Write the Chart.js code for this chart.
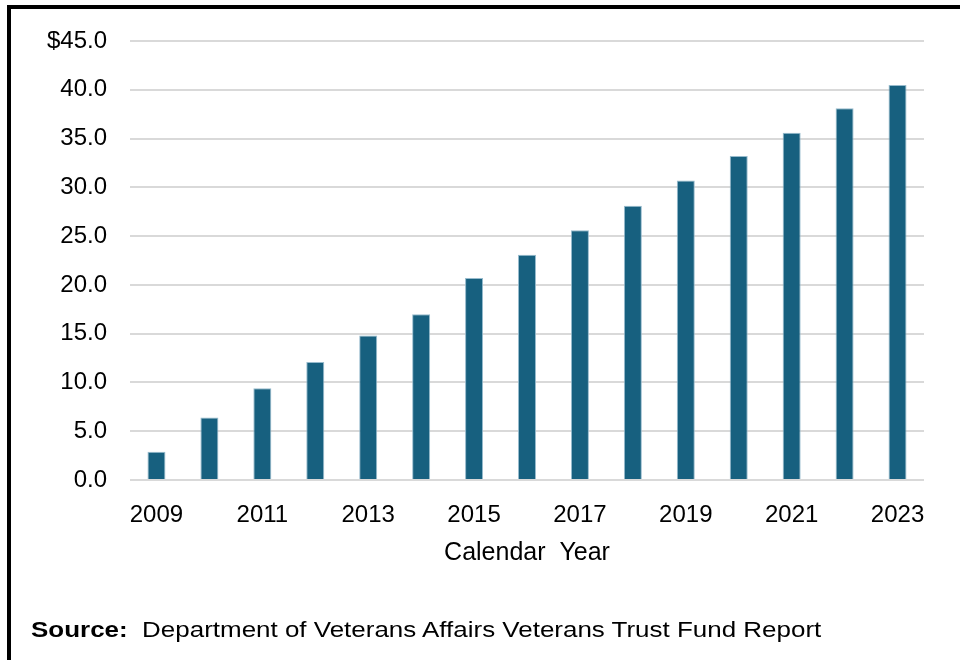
<!DOCTYPE html>
<html>
<head>
<meta charset="utf-8">
<script src="https://cdn.jsdelivr.net/npm/chart.js@4.4.1/dist/chart.umd.min.js"></script>
<style>
  html, body { margin: 0; padding: 0; background: #fff; }
  #wrap { position: relative; width: 960px; height: 660px; overflow: hidden; }
  #myChart { position: absolute; left: 0; top: 0; }
  .frame {
    position: absolute; left: 7px; top: 5px; width: 1000px; height: 700px;
    border: 4px solid #000; pointer-events: none;
  }
  .source {
    position: absolute; left: 31px; top: 617px;
    font-family: "Liberation Sans", Arial, sans-serif; font-size: 22px; color: #000;
    white-space: nowrap;
    transform: scaleX(1.18); transform-origin: left center;
  }
  .source b { font-weight: bold; }
</style>
</head>
<body>
<div id="wrap">
  <canvas id="myChart" width="960" height="660"></canvas>
  <div class="frame"></div>
  <div class="source"><b>Source:</b>&nbsp; Department of Veterans Affairs Veterans Trust Fund Report</div>
</div>
<script>
// data
const years = ['2009', '2010', '2011', '2012', '2013', '2014', '2015', '2016',
  '2017', '2018', '2019', '2020', '2021', '2022', '2023'];
const balance = [2.9, 6.4, 9.4, 12.1, 14.8, 17.0, 20.7, 23.1, 25.6, 28.1, 30.7, 33.2, 35.6, 38.1, 40.5];
const shownYears = ['2009', '2011', '2013', '2015', '2017', '2019', '2021', '2023'];
const yTicks = [0, 5, 10, 15, 20, 25, 30, 35, 40, 45];

const font = 'Liberation Sans, Arial, sans-serif';

const config = {
  type: 'bar',
  data: {
    labels: years,
    datasets: [{
      data: balance,
      backgroundColor: '#17607f',
      borderColor: 'rgba(140,180,200,0.9)',
      borderWidth: 1,
      barPercentage: 0.34,
      categoryPercentage: 1
    }]
  },
  options: {
    responsive: false,
    animation: false,
    layout: {
      padding: { top: 41, right: 36, bottom: 92, left: 0 }
    },
    plugins: {
      legend: { display: false },
      tooltip: { enabled: false }
    },
    scales: {
      x: {
        // fixed height keeps the axis title under the year labels
        afterFit(scale) { scale.height = 88; },
        grid: { display: false, drawTicks: false },
        border: { display: false },
        ticks: {
          autoSkip: false,
          maxRotation: 0,
          padding: 21,
          color: '#000',
          font: { family: font, size: 24 },
          callback: function(val) {
            const y = this.getLabelForValue(val);
            return shownYears.includes(y) ? y : '';
          }
        },
        title: {
          display: true,
          text: 'Calendar  Year',
          color: '#000',
          font: { family: font, size: 25 },
          padding: { top: 0, bottom: 0 }
        }
      },
      y: {
        min: 0,
        max: 45,
        afterFit(scale) { scale.width = 130; },
        afterBuildTicks(scale) { scale.ticks = yTicks.map(v => ({ value: v })); },
        grid: { color: '#d9d9d9', lineWidth: 2, drawTicks: false },
        border: { display: false },
        ticks: {
          padding: 23,
          color: '#000',
          font: { family: font, size: 24 },
          callback: v => (v === 45 ? '$' : '') + v.toFixed(1)
        }
      }
    }
  }
};

const myChart = new Chart(document.getElementById('myChart'), config);
</script>
</body>
</html>
